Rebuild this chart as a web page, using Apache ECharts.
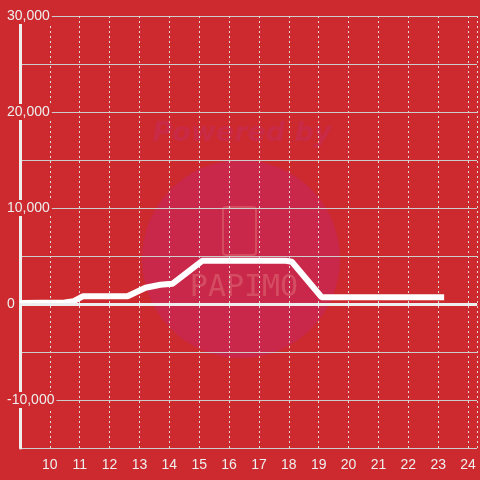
<!DOCTYPE html>
<html>
<head>
<meta charset="utf-8">
<script src="https://cdn.jsdelivr.net/npm/echarts@6/dist/echarts.min.js"></script>
<style>
  html, body { margin: 0; padding: 0; background: #cc2a2e; }
  #chart { width: 480px; height: 480px; }
</style>
</head>
<body>
<div id="chart"></div>
<script>
// hour of day vs value
var hours  = [9,   10.5, 10.8, 11.1, 12.6, 13.2, 13.7, 14.1, 15.1, 17.9, 18.1, 19.1, 23.2];
var values = [100, 150,  300,  800,  800,  1700, 2000, 2100, 4500, 4500, 4400, 700,  700];
var yTicks = [-10000, 0, 10000, 20000, 30000];   // labelled ticks

var chart = echarts.init(document.getElementById('chart'));

var points = hours.map(function (h, i) { return [h, values[i]]; });

var option = {
    backgroundColor: '#cc2a2e',
    animation: false,
    grid: { left: 20, right: 0, top: 16, bottom: 32 },
    // watermark behind the plot
    graphic: [
        { type: 'circle', z: -10, shape: { cx: 241, cy: 259, r: 99 }, style: { fill: '#c9284a' } },
        { type: 'text', z: -9, x: 242, y: 134, style: {
            text: 'Powered by', fill: '#c92a45',
            fontFamily: 'DejaVu Sans', fontSize: 27, fontWeight: 'bold', fontStyle: 'oblique',
            align: 'center', verticalAlign: 'middle' } },
        { type: 'rect', z: -9, shape: { x: 223, y: 207, width: 33, height: 48, r: 3 },
          style: { fill: 'none', stroke: '#d54b5f', lineWidth: 2 } },
        { type: 'text', z: -9, x: 244, y: 288, style: {
            text: 'PAPIMO', fill: '#d44c61',
            fontFamily: 'DejaVu Sans Mono', fontSize: 30,
            align: 'center', verticalAlign: 'middle' } }
    ],
    xAxis: {
        type: 'value',
        min: 9,
        max: 24.3,
        interval: 1,
        axisLine: { lineStyle: { color: '#dddddd', width: 1 } },
        axisTick: { show: false },
        axisLabel: {
            color: '#eeeeee', fontSize: 14, margin: 10,
            fontFamily: 'Liberation Sans',
            formatter: function (v) { return (Number.isInteger(v) && v > 9) ? String(v) : ''; }
        },
        splitLine: { show: true, lineStyle: { color: '#dddddd', type: [2, 3], width: 1 } }
    },
    yAxis: {
        type: 'value',
        min: -15000,
        max: 30000,
        interval: 5000,
        axisLine: { show: true, lineStyle: { color: '#eeeeee', width: 3 } },
        axisTick: { show: false },
        axisLabel: {
            color: '#eeeeee', fontSize: 14, margin: 15, align: 'left',
            fontFamily: 'Liberation Sans',
            backgroundColor: '#cc2a2e', padding: [1, 2],
            formatter: function (v) {
                return yTicks.indexOf(v) >= 0 ? v.toLocaleString('en-US') : '';
            }
        },
        splitLine: { show: true, lineStyle: { color: '#cccccc', width: 1 } }
    },
    series: [
        {
            type: 'line',
            data: points,
            showSymbol: false,
            lineStyle: { color: '#ffffff', width: 6 },
            itemStyle: { color: '#ffffff' },
            markLine: {
                silent: true,
                symbol: 'none',
                label: { show: false },
                lineStyle: { color: '#eeeeee', width: 3, type: 'solid' },
                data: [{ yAxis: 0 }]
            }
        }
    ]
};

chart.setOption(option);
</script>
</body>
</html>
